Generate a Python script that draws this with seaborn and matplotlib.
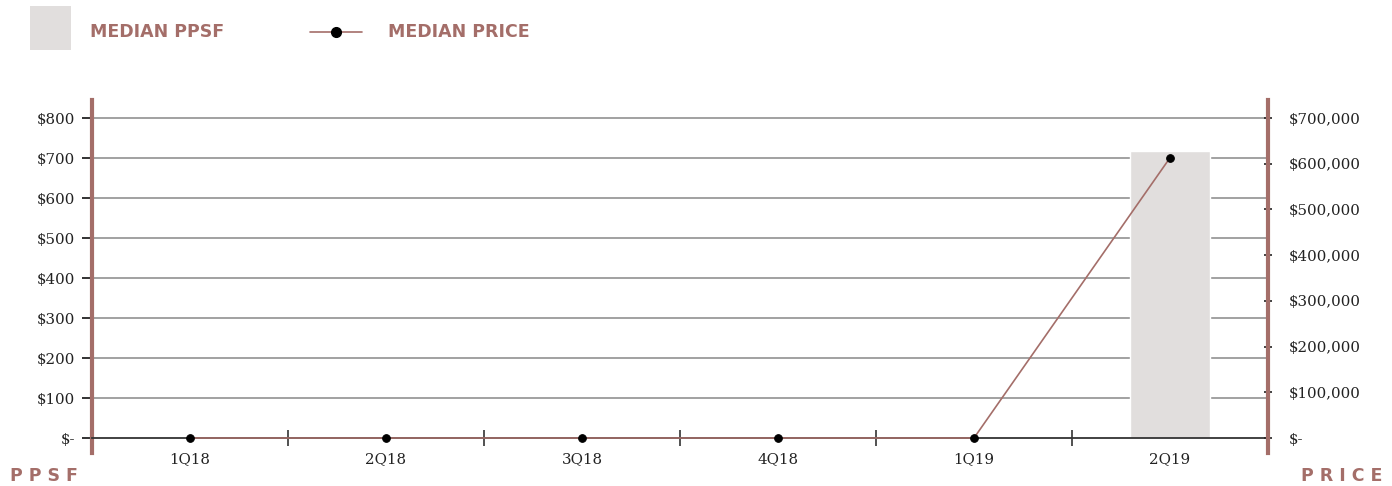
import matplotlib
matplotlib.use("Agg")
import matplotlib.pyplot as plt
import matplotlib.ticker as mticker
from matplotlib.patches import Rectangle
from matplotlib.lines import Line2D
import seaborn as sns
import pandas as pd

# Quarterly data
quarters = ["1Q18", "2Q18", "3Q18", "4Q18", "1Q19", "2Q19"]
median_ppsf = [0, 0, 0, 0, 0, 718]
median_price = [0, 0, 0, 0, 0, 613000]

ppsf_ticks = [0, 100, 200, 300, 400, 500, 600, 700, 800]
price_ticks = [0, 100000, 200000, 300000, 400000, 500000, 600000, 700000]

BROWN = "#a46e69"
BAR_GRAY = "#e1dedd"
GRID = "#9a9a9a"

sns.set_theme(style="white")
plt.rcParams["font.family"] = ["DejaVu Serif"]

df = pd.DataFrame({"quarter": quarters, "ppsf": median_ppsf, "price": median_price})

W, H = 1392, 486
fig = plt.figure(figsize=(W / 100, H / 100), dpi=100)
ax = fig.add_axes([92 / W, (H - 453) / H, (1268 - 92) / W, 353 / H])

# PPSF bars
sns.barplot(data=df, x="quarter", y="ppsf", ax=ax, color=BAR_GRAY, width=0.41,
            saturation=1, zorder=2)
ax.set_xlim(-0.5, 5.5)
ymin, ymax = -37.5, 845
ax.set_ylim(ymin, ymax)

# horizontal grid lines
for t in ppsf_ticks[1:]:
    ax.axhline(t, color=GRID, lw=1.3, zorder=1)

# Price line on secondary axis
ax2 = ax.twinx()
scale = 875
ax2.set_ylim(ymin * scale, ymax * scale)
sns.lineplot(x=list(range(len(quarters))), y=median_price, ax=ax2, color=BROWN,
             lw=1.2, marker="o", markersize=5.5, markerfacecolor="black",
             markeredgecolor="black", zorder=4)
ax.set_zorder(1)
ax2.set_zorder(2)
ax.patch.set_visible(False)

# Axis styling
for a in (ax, ax2):
    for s in ("top", "bottom", "left", "right"):
        a.spines[s].set_visible(False)
ax.spines["left"].set_visible(True)
ax.spines["left"].set_color(BROWN)
ax.spines["left"].set_linewidth(3)
ax2.spines["right"].set_visible(True)
ax2.spines["right"].set_color(BROWN)
ax2.spines["right"].set_linewidth(3)

# category axis sits on the zero line
ax.spines["bottom"].set_visible(True)
ax.spines["bottom"].set_position(("data", 0))
ax.spines["bottom"].set_color("#333333")
ax.spines["bottom"].set_linewidth(1.3)
ax.spines["bottom"].set_zorder(3)

ax.set_xlabel("")
ax.set_ylabel("")
ax2.set_ylabel("")

ax.set_yticks(ppsf_ticks)
ax.yaxis.set_major_formatter(mticker.FuncFormatter(lambda v, p: "$-" if v == 0 else f"${v:,.0f}"))
ax.tick_params(axis="y", left=True, length=7, width=1.3, color="#222222", pad=5,
               labelsize=10.8, labelcolor="#222222", direction="out")

ax2.set_yticks(price_ticks)
ax2.yaxis.set_major_formatter(mticker.FuncFormatter(lambda v, p: "$-" if v == 0 else f"${v:,.0f}"))
ax2.tick_params(axis="y", right=True, length=6, width=1.2, color="#222222", pad=12,
                labelsize=10.8, labelcolor="#222222", direction="inout")

ax.set_xticks(range(len(quarters)))
ax.set_xticklabels(quarters)
ax.set_xticks([i + 0.5 for i in range(len(quarters) - 1)], minor=True)
ax.tick_params(axis="x", which="major", bottom=True, length=0, pad=10,
               labelsize=10.8, labelcolor="#222222")
ax.tick_params(axis="x", which="minor", bottom=True, length=12, width=1.2,
               color="#333333", direction="inout")
ax2.tick_params(axis="x", bottom=False, top=False)

# Legend drawn in figure coordinates
def fx(px):
    return px / W

def fy(py):
    return 1 - py / H

fig.add_artist(Rectangle((fx(30), fy(50)), fx(71) - fx(30), fy(6) - fy(50),
                         transform=fig.transFigure, facecolor=BAR_GRAY, edgecolor="none"))
legend_font = dict(family="DejaVu Sans", fontweight="bold", fontsize=12.5, color=BROWN,
                   va="center", ha="left")
fig.text(fx(90), fy(32), "MEDIAN PPSF", **legend_font)
fig.add_artist(Line2D([fx(310), fx(362)], [fy(32), fy(32)], transform=fig.transFigure,
                      color=BROWN, lw=1.2))
fig.add_artist(Line2D([fx(336)], [fy(32)], transform=fig.transFigure, marker="o",
                      markersize=7, color="black"))
fig.text(fx(388), fy(32), "MEDIAN PRICE", **legend_font)

axis_font = dict(family="DejaVu Sans", fontweight="bold", fontsize=12.5, color=BROWN,
                 va="center")
fig.text(fx(10), fy(476), "P P S F", ha="left", **axis_font)
fig.text(fx(1382), fy(476), "P R I C E", ha="right", **axis_font)

fig.savefig("out.png", dpi=100)
